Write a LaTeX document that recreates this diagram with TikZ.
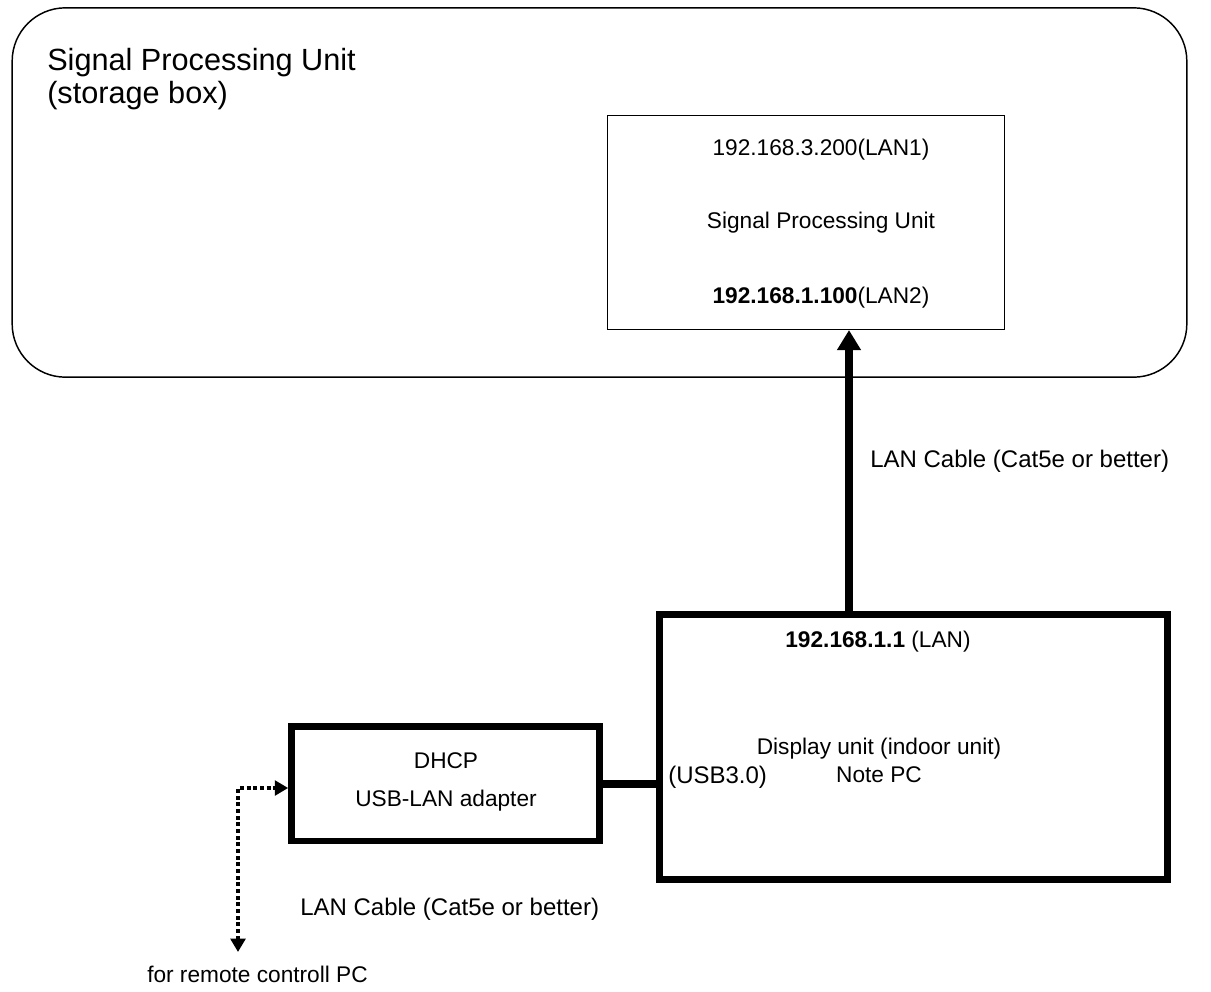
\documentclass[tikz,border=0pt]{standalone}
\usepackage{fontspec}
\setmainfont{Liberation Sans}
\usepackage{tikz}
\usetikzlibrary{arrows.meta,positioning}

\begin{document}
\begin{tikzpicture}[x=0.75pt,y=-0.75pt,
 storage/.style={draw,line width=1.1pt,rounded corners=40pt,minimum width=881pt,minimum height=277pt,inner sep=0pt},
 unitbox/.style={draw,line width=0.9pt,minimum width=298pt,minimum height=161pt,inner sep=0pt},
 pcbox/.style={draw,line width=5pt,minimum width=381pt,minimum height=199pt,inner sep=0pt},
 adapter/.style={draw,line width=5pt,minimum width=231pt,minimum height=86pt,inner sep=0pt},
 txt/.style={font=\fontsize{17}{21}\selectfont,inner sep=0pt},
 cablelabel/.style={txt,anchor=west,font=\fontsize{18}{21}\selectfont},
 cable/.style={line width=6pt},
 up/.style={cable,-{Triangle[length=15pt,width=17pt]}},
 remote/.style={line width=3pt,dotted,{Triangle[length=10pt,width=11pt]}-{Triangle[length=10pt,width=11pt]}}
]
\useasboundingbox (0,0) rectangle (1211,992);
% storage box
\node[storage] (box) at (599.5,192.5) {};
\node[anchor=north west,align=left,inner sep=0pt,font=\fontsize{23}{25}\selectfont] (title) at (47,48) {Signal Processing Unit\\(storage box)};
% signal processing unit
\node[unitbox] (spu) at (806,222.5) {};
\node[txt] (lan1) at (821,150) {192.168.3.200(LAN1)};
\node[txt] (spuname) at (821,223) {Signal Processing Unit};
\node[txt] (lan2) at (821,298) {\textbf{192.168.1.100}(LAN2)};
% display unit
\node[pcbox] (pc) at (913.5,747) {};
\node[txt] (lan) at (878,642) {\textbf{192.168.1.1} (LAN)};
\node[txt,align=center] (pcname) at (879,760) {Display unit (indoor unit)\\Note PC};
\node[txt,anchor=west,font=\fontsize{18}{21}\selectfont] (usb) at (668,777) {(USB3.0)};
% usb-lan adapter
\node[adapter] (dhcp) at (445.5,783.5) {};
\node[txt,align=center,font=\fontsize{17}{28}\selectfont] (dhcpname) at (446,782) {DHCP\\USB-LAN adapter};
% cables
\coordinate (spuin) at (849,330);
\draw[up] (849,612) coordinate (pcout) -- (spuin);
\node[cablelabel] (cable1) at (870,461) {LAN Cable (Cat5e or better)};
\draw[cable] (dhcp.east) -- (pc.west |- dhcp.east);
\node[cablelabel] (cable2) at (300,909) {LAN Cable (Cat5e or better)};
\coordinate (bend) at (238,788);
\coordinate (pcend) at (238,952);
\draw[remote] (pcend) -- (bend) -- (dhcp.west |- bend);
\node[txt,anchor=west] (remotepc) at (147,974) {for remote controll PC};
\end{tikzpicture}
\end{document}
